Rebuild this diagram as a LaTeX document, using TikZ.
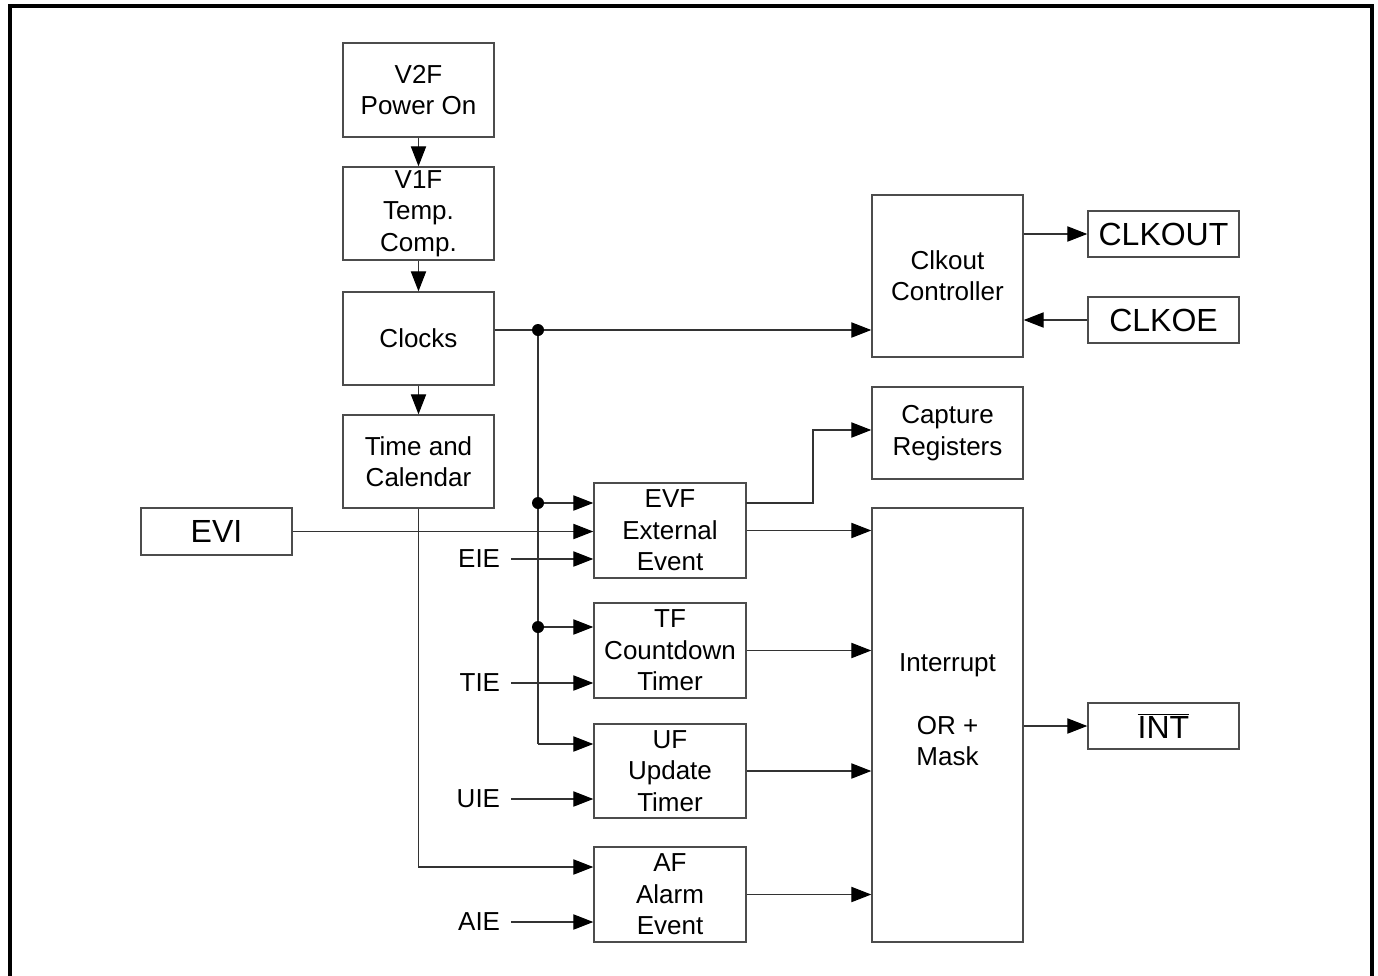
\documentclass[tikz,border=0pt]{standalone}
\usepackage{fontspec}
\setmainfont{Liberation Sans}
\usetikzlibrary{arrows.meta}
\tikzset{
  box/.style={draw=black!70, line width=1.1pt, inner sep=0pt, align=center,
    minimum width=113.25pt, font=\fontsize{19.5pt}{23.5pt}\selectfont},
  bigbox/.style={box, minimum height=34.5pt, font=\fontsize{24pt}{28pt}\selectfont},
  sig/.style={anchor=east, inner xsep=8pt, inner ysep=0pt, font=\fontsize{19.5pt}{23.5pt}\selectfont},
  conn/.style={draw=black!80, line width=0.8pt, -{Triangle[length=15pt,width=11.5pt,color=black]}},
  wire/.style={draw=black!80, line width=0.8pt},
  dot/.style={circle, fill=black, inner sep=0pt, minimum size=9pt},
  frame/.style={draw=black, line width=3pt}
}
\begin{document}
\begin{tikzpicture}[x=0.75pt,y=-0.75pt]
\useasboundingbox (0,0) rectangle (1378,975);
% frame (bottom edge lies outside the picture)
\draw[frame] (10,990) -- (10,6) -- (1371.5,6) -- (1371.5,990);

% boxes
\node[box, minimum height=70.5pt] (v2f) at (418.5,90) {V2F\\Power On};
\node[box, minimum height=69.75pt] (v1f) at (418.5,213.5) {V1F\\Temp.\\Comp.};
\node[box, minimum height=69.75pt] (clocks) at (418.5,338.5) {Clocks};
\node[box, minimum height=69.75pt] (tc) at (418.5,461.5) {Time and\\Calendar};
\node[box, minimum height=121.5pt] (ctrl) at (947.5,276) {Clkout\\Controller};
\node[bigbox] (clkout) at (1163.5,234) {CLKOUT};
\node[bigbox] (clkoe) at (1163.5,320) {CLKOE};
\node[box, minimum height=69pt] (cap) at (947.5,433) {Capture\\Registers};
\node[box, minimum width=114pt, minimum height=71.25pt] (evf) at (670,530.5) {EVF\\External\\Event};
\node[box, minimum width=114pt, minimum height=71.25pt] (tf) at (670,650.5) {TF\\Countdown\\Timer};
\node[box, minimum width=114pt, minimum height=70.5pt] (uf) at (670,771) {UF\\Update\\Timer};
\node[box, minimum width=114pt, minimum height=71.25pt] (af) at (670,894.5) {AF\\Alarm\\Event};
\node[box, minimum height=325.5pt] (intr) at (947.5,725) {};
\node[align=center, font=\fontsize{19.5pt}{23.5pt}\selectfont] (intrtxt) at (947.5,710) {Interrupt\\ \\OR +\\Mask};
\node[bigbox] (int) at (1163.5,726) {$\overline{\hbox{INT}}$};
\node[bigbox, minimum height=35.25pt] (evi) at (216.5,531.5) {EVI};

% signal labels
\node[sig] (eie) at (511,559) {EIE};
\node[sig] (tie) at (511,683) {TIE};
\node[sig] (uie) at (511,799) {UIE};
\node[sig] (aie) at (511,922) {AIE};

% junctions
\coordinate (j1) at (538,330);
\coordinate (j2) at (538,503);
\coordinate (j3) at (538,627);
\coordinate (j4) at (538,744);
\coordinate (tcb) at (418.5,867);
\coordinate (capk) at (813,430);
\coordinate (evo) at (746,503);

% vertical chain
\draw[conn] (v2f.south) -- (v1f.north);
\draw[conn] (v1f.south) -- (clocks.north);
\draw[conn] (clocks.south) -- (tc.north);

% clock bus
\draw[conn] (clocks.east |- j1) -- (j1) -- (ctrl.west |- j1);
\draw[wire] (j1) -- (j4);
\draw[conn] (j4) -- (uf.west |- j4);
\draw[conn] (j2) -- (evf.west |- j2);
\draw[conn] (j3) -- (tf.west |- j3);
\node[dot] (d1) at (j1) {};
\node[dot] (d2) at (j2) {};
\node[dot] (d3) at (j3) {};

% clkout
\draw[conn] (ctrl.east |- clkout.west) -- (clkout.west);
\draw[conn] (clkoe.west) -- (ctrl.east |- clkoe.west);

% inputs
\draw[conn] (evi.east) -- (evf.west |- evi.east);
\draw[conn] (eie.east) -- (evf.west |- eie.east);
\draw[conn] (tie.east) -- (tf.west |- tie.east);
\draw[conn] (uie.east) -- (uf.west |- uie.east);
\draw[conn] (aie.east) -- (af.west |- aie.east);
\draw[conn] (tc.south) -- (tcb) -- (af.west |- tcb);

% outputs
\draw[conn] (evo) -- (evo -| capk) -- (capk) -- (cap.west |- capk);
\draw[conn] (evf.east) -- (intr.west |- evf.east);
\draw[conn] (tf.east) -- (intr.west |- tf.east);
\draw[conn] (uf.east) -- (intr.west |- uf.east);
\draw[conn] (af.east) -- (intr.west |- af.east);
\draw[conn] (intr.east |- int.west) -- (int.west);
\end{tikzpicture}
\end{document}
